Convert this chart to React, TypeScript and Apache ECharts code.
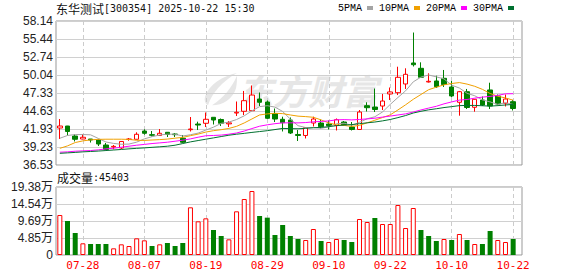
import React, { useEffect, useRef } from 'react';
import * as echarts from 'echarts';

const dates = [
  '07-23', '07-24', '07-25', '07-28', '07-29', '07-30', '07-31', '08-01', '08-04', '08-05',
  '08-06', '08-07', '08-08', '08-11', '08-12', '08-13', '08-14', '08-15', '08-18', '08-19',
  '08-20', '08-21', '08-22', '08-25', '08-26', '08-27', '08-28', '08-29', '09-01', '09-02',
  '09-03', '09-04', '09-05', '09-08', '09-09', '09-10', '09-11', '09-12', '09-15', '09-16',
  '09-17', '09-18', '09-19', '09-22', '09-23', '09-24', '09-25', '09-26', '09-29', '09-30',
  '10-09', '10-10', '10-13', '10-14', '10-15', '10-16', '10-17', '10-20', '10-21', '10-22',
];

const opens = [
  42.08, 42.38, 40.88, 40.43, 40.43, 40.28, 39.53, 39.23, 39.08, 40.36,
  40.39, 41.63, 41.08, 40.96, 41.44, 41.18, 40.54, 41.83, 42.68, 42.79,
  43.69, 43.36, 42.70, 44.33, 44.59, 44.68, 46.43, 45.98, 44.26, 43.39,
  43.28, 41.11, 40.96, 42.83, 42.83, 42.68, 42.46, 42.98, 42.23, 41.86,
  45.43, 45.23, 45.38, 47.19, 47.38, 48.69, 51.84, 51.04, 48.99, 49.14,
  49.54, 48.24, 45.94, 47.53, 45.19, 46.28, 47.79, 46.89, 45.79, 46.03,
];
const closes = [
  42.38, 41.56, 40.39, 40.69, 40.28, 39.68, 38.86, 39.33, 40.06, 40.43,
  41.14, 41.29, 40.99, 41.29, 41.11, 41.08, 39.94, 41.93, 42.53, 43.39,
  43.28, 42.79, 42.85, 44.44, 46.18, 47.03, 45.94, 43.54, 43.43, 42.88,
  41.33, 40.96, 42.13, 43.43, 42.28, 42.43, 43.33, 42.53, 41.86, 44.48,
  45.13, 44.86, 46.13, 47.49, 49.69, 50.14, 51.58, 49.69, 49.09, 48.28,
  48.61, 46.89, 47.53, 45.16, 46.39, 45.53, 45.38, 45.68, 46.43, 45.01,
];
const lows = [
  40.43, 40.96, 40.06, 40.39, 39.90, 39.38, 38.78, 38.88, 38.93, 40.17,
  40.36, 41.08, 40.81, 40.94, 40.73, 40.73, 39.83, 41.56, 41.78, 42.23,
  42.61, 42.38, 42.23, 43.88, 44.03, 44.63, 45.38, 43.43, 42.98, 41.56,
  41.18, 40.13, 40.51, 42.31, 42.01, 41.86, 41.71, 42.46, 41.71, 41.78,
  44.56, 44.48, 44.78, 46.28, 47.03, 47.94, 51.31, 49.66, 48.91, 48.09,
  48.24, 46.69, 43.93, 44.93, 44.53, 45.38, 44.93, 45.46, 45.31, 44.71,
];
const highs = [
  43.43, 42.40, 41.18, 41.18, 40.43, 40.35, 39.83, 39.53, 40.06, 40.58,
  41.44, 41.89, 41.63, 41.93, 41.48, 41.33, 41.03, 43.73, 43.03, 44.41,
  43.73, 43.51, 43.13, 46.06, 47.64, 48.46, 47.41, 46.21, 45.01, 43.78,
  43.66, 41.78, 42.16, 43.78, 43.36, 43.21, 43.51, 43.13, 42.98, 44.78,
  45.94, 48.01, 47.19, 48.16, 51.28, 51.04, 56.41, 51.94, 50.29, 49.93,
  50.79, 49.14, 47.64, 47.94, 46.43, 46.81, 48.88, 47.11, 47.11, 46.28,
];

const ma5 = [
  40.54, 40.96, 41.10, 41.10, 41.06, 40.52, 39.98, 39.77, 39.64, 39.67,
  39.96, 40.45, 40.78, 41.03, 41.16, 41.15, 40.88, 41.07, 41.32, 41.77,
  42.21, 42.78, 42.97, 43.35, 43.91, 44.66, 45.29, 45.43, 45.22, 44.56,
  43.42, 42.43, 42.15, 42.15, 42.03, 42.25, 42.72, 42.80, 42.49, 42.93,
  43.47, 43.77, 44.49, 45.62, 46.66, 47.66, 49.01, 49.72, 50.04, 49.76,
  49.45, 48.51, 48.08, 47.29, 46.92, 46.30, 46.00, 45.63, 45.88, 45.61,
];
const ma10 = [
  39.03, 39.40, 39.90, 40.15, 40.30, 40.38, 40.40, 40.40, 40.40, 40.37,
  40.24, 40.22, 40.28, 40.34, 40.42, 40.56, 40.67, 40.93, 41.17, 41.47,
  41.68, 41.83, 42.02, 42.33, 42.84, 43.44, 44.04, 44.20, 44.29, 44.24,
  44.04, 43.86, 43.79, 43.69, 43.30, 42.84, 42.57, 42.47, 42.32, 42.48,
  42.86, 43.25, 43.65, 44.05, 44.79, 45.56, 46.39, 47.11, 47.83, 48.21,
  48.56, 48.76, 48.90, 48.67, 48.34, 47.88, 47.26, 46.85, 46.59, 46.26,
];
const ma20 = [
  38.45, 38.50, 38.60, 38.65, 38.70, 38.80, 38.95, 39.05, 39.20, 39.35,
  39.50, 39.62, 39.75, 39.85, 39.95, 40.10, 40.25, 40.45, 40.70, 40.92,
  40.96, 41.02, 41.15, 41.33, 41.63, 42.00, 42.35, 42.56, 42.73, 42.85,
  42.86, 42.85, 42.90, 43.01, 43.07, 43.14, 43.31, 43.34, 43.30, 43.36,
  43.45, 43.55, 43.72, 43.87, 44.04, 44.20, 44.48, 44.79, 45.07, 45.34,
  45.71, 46.00, 46.27, 46.36, 46.56, 46.72, 46.82, 46.98, 47.21, 47.23,
];
const ma30 = [
  38.28, 38.35, 38.42, 38.50, 38.56, 38.62, 38.70, 38.78, 38.86, 38.95,
  39.03, 39.10, 39.18, 39.26, 39.35, 39.50, 39.75, 40.00, 40.20, 40.40,
  40.60, 40.80, 41.00, 41.15, 41.28, 41.42, 41.55, 41.68, 41.85, 42.02,
  41.99, 41.97, 42.03, 42.12, 42.18, 42.28, 42.43, 42.53, 42.59, 42.73,
  42.86, 42.98, 43.15, 43.36, 43.64, 43.95, 44.33, 44.59, 44.81, 44.97,
  45.15, 45.29, 45.44, 45.47, 45.47, 45.42, 45.37, 45.44, 45.54, 45.62,
];

const volumes = [
  114000, 96900, 62700, 33300, 31350, 31350, 31350, 19000, 30400, 25650,
  47500, 41800, 25650, 30400, 34200, 25650, 34200, 135900, 96000, 104500,
  71250, 54150, 44650, 124500, 159600, 182400, 111150, 106400, 57000, 85500,
  54150, 45600, 42750, 74100, 39900, 37050, 45600, 42750, 37050, 102600,
  94050, 105450, 88350, 88350, 142500, 76950, 133950, 71250, 54150, 39900,
  45600, 42750, 59850, 42750, 31350, 31350, 68400, 42750, 37050, 45403,
];

const priceMin = 36.53;
const priceMax = 58.14;
const priceStep = 2.70125;
const priceLabels = ['36.53', '39.23', '41.93', '44.63', '47.33', '50.04', '52.74', '55.44', '58.14'];
const volMax = 193800;
const volStep = 48450;
const volLabels = ['0', '4.85万', '9.69万', '14.54万', '19.38万'];

const maNames = ['5PMA', '10PMA', '20PMA', '30PMA'];
const maSeries = [ma5, ma10, ma20, ma30];
const maColors = ['#a4a4a4', '#f0a000', '#ff00ff', '#007030'];

const UP = '#ff0000';
const DOWN = '#008000';

const LOGO_PATH =
  'M34 0 C20 3 6 12 2 25 C1 29 2 32 5 34 C9 21 19 9 34 0 Z ' +
  'M34 3 C29 15 21 26 9 34 C20 34 30 27 33 16 C34 11 34 7 34 3 Z';
let logoRegistered = false;

export default function App() {
  const ref = useRef<HTMLDivElement>(null);
  useEffect(() => {
    document.body.style.margin = '0';
    if (!logoRegistered) {
      echarts.graphic.registerShape('emlogo', echarts.graphic.extendPath(LOGO_PATH, {}));
      logoRegistered = true;
    }
    const chart = echarts.init(ref.current!, null, { renderer: 'svg' });
    const labelInterval = (index: number) => (index - 3) % 8 === 0;
    const vLine = { show: true, interval: labelInterval, alignWithLabel: true, lineStyle: { color: '#cccccc', type: [4, 3], width: 1 } };
    const labelFont = "'Liberation Sans', 'Noto Sans CJK SC', sans-serif";
    const L = 56;
    const FW = 466;
    const PW = 461;

    const option: any = {
      animation: false,
      backgroundColor: '#ffffff',
      legend: {
        data: maNames,
        right: 64,
        top: 3,
        padding: 0,
        align: 'right',
        icon: 'rect',
        itemWidth: 6,
        itemHeight: 4,
        itemGap: 6,
        selectedMode: false,
        textStyle: { fontFamily: "'Liberation Mono', monospace", fontSize: 10, color: '#000' },
      },
      graphic: [
        {
          type: 'text', left: 56, top: 2, z: 10,
          style: {
            text: '{a|东华测试}{b|[300354] 2025-10-22 15:30}',
            rich: {
              a: { fontFamily: "'Noto Sans CJK SC'", fontSize: 12, fill: '#111' },
              b: { fontFamily: "'DejaVu Sans Mono', monospace", fontSize: 10, fill: '#111' },
            },
          },
        },
        {
          type: 'text', left: 57, top: 171, z: 10,
          style: {
            text: '{a|成交量}{b|:45403}',
            rich: {
              a: { fontFamily: "'Noto Sans CJK SC'", fontSize: 12, fill: '#111' },
              b: { fontFamily: "'DejaVu Sans Mono', monospace", fontSize: 10, fill: '#111' },
            },
          },
        },
        {
          type: 'emlogo', x: 203, y: 73, scaleX: 1, scaleY: 0.95, z: -1,
          style: { fill: '#e6e6e6' },
        },
        {
          type: 'text', left: 238, top: 72, z: -1,
          style: {
            text: '东方财富',
            font: "italic bold 35px 'Noto Sans CJK SC'",
            fill: '#e6e6e6',
          },
        },
      ],
      grid: [
        { left: L, top: 21, width: FW, height: 144, show: true, borderColor: '#999', borderWidth: 1 },
        { left: L, top: 21, width: PW, height: 144 },
        { left: L, top: 187, width: FW, height: 68, show: true, borderColor: '#999', borderWidth: 1 },
        { left: L, top: 187, width: PW, height: 68 },
      ],
      xAxis: [
        { gridIndex: 0, type: 'value', show: false, min: 0, max: 1 },
        {
          gridIndex: 1, type: 'category', data: dates, boundaryGap: true,
          axisLine: { show: false }, axisTick: { show: false }, axisLabel: { show: false },
          splitLine: vLine,
        },
        { gridIndex: 2, type: 'value', show: false, min: 0, max: 1 },
        {
          gridIndex: 3, type: 'category', data: dates, boundaryGap: true,
          axisLine: { show: false }, axisTick: { show: false },
          axisLabel: { interval: labelInterval, color: '#ff0000', fontFamily: "'DejaVu Sans Mono', monospace", fontSize: 11, margin: 5 },
          splitLine: vLine,
        },
      ],
      yAxis: [
        {
          gridIndex: 0, type: 'value', min: priceMin, max: priceMax, interval: priceStep,
          axisLine: { show: false }, axisTick: { show: false },
          axisLabel: {
            margin: 3, color: '#222', fontFamily: labelFont, fontSize: 12,
            formatter: (v: number) => priceLabels[Math.round((v - priceMin) / priceStep)] ?? '',
          },
          splitLine: { lineStyle: { color: '#d0d0d0', width: 1 } },
        },
        { gridIndex: 1, type: 'value', min: priceMin, max: priceMax, show: false },
        {
          gridIndex: 2, type: 'value', min: 0, max: volMax, interval: volStep,
          axisLine: { show: false }, axisTick: { show: false },
          axisLabel: {
            margin: 3, color: '#222', fontFamily: labelFont, fontSize: 12,
            formatter: (v: number) => volLabels[Math.round(v / volStep)] ?? '',
          },
          splitLine: { lineStyle: { color: '#d0d0d0', width: 1 } },
        },
        { gridIndex: 3, type: 'value', min: 0, max: volMax, show: false },
      ],
      series: [
        {
          type: 'candlestick', xAxisIndex: 1, yAxisIndex: 1, barWidth: 5,
          data: dates.map((_, i) => [opens[i], closes[i], lows[i], highs[i]]),
          itemStyle: { color: '#ffffff', color0: DOWN, borderColor: UP, borderColor0: DOWN, borderWidth: 1 },
        },
        ...maNames.map((name, k) => ({
          name, type: 'line', xAxisIndex: 1, yAxisIndex: 1, data: maSeries[k],
          symbol: 'none', showSymbol: false, smooth: false,
          lineStyle: { color: maColors[k], width: 1 }, itemStyle: { color: maColors[k] },
        })),
        {
          type: 'bar', xAxisIndex: 3, yAxisIndex: 3, barWidth: 5,
          data: volumes.map((v, i) => {
            const up = i === 0 || closes[i] >= closes[i - 1];
            return {
              value: v,
              itemStyle: up
                ? { color: '#ffffff', borderColor: UP, borderWidth: 1 }
                : { color: DOWN, borderColor: DOWN, borderWidth: 0 },
            };
          }),
        },
      ],
    };
    chart.setOption(option);
    return () => chart.dispose();
  }, []);
  return <div ref={ref} style={{ width: 578, height: 276, background: '#fff' }} />;
}
